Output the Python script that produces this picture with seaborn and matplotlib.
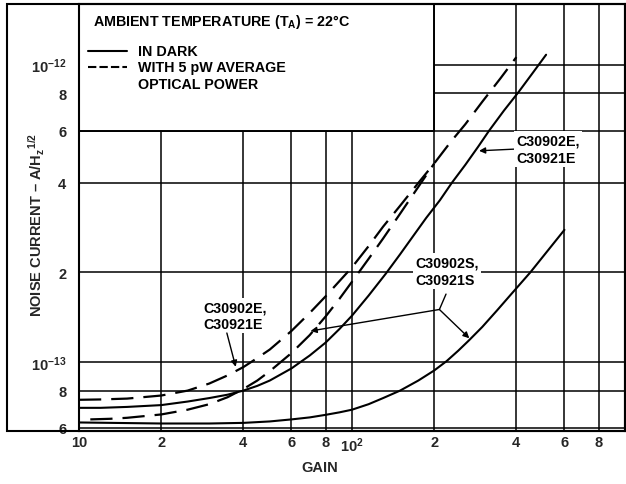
import matplotlib
matplotlib.use("Agg")
import matplotlib.pyplot as plt
import numpy as np
import pandas as pd
import seaborn as sns
from matplotlib.patches import Rectangle
from matplotlib.lines import Line2D

# ---- data (noise current in units of 1e-13 A/Hz^1/2) ----
gain_e_dark = [10, 12, 15, 20, 25, 30, 35, 40, 45, 50, 60, 70, 80, 90, 100, 115, 133, 150,
               170, 187, 210, 232, 260, 290, 318, 360, 408, 460, 514]
noise_e_dark = [0.70, 0.70, 0.705, 0.715, 0.735, 0.755, 0.775, 0.80, 0.83, 0.865, 0.95, 1.05,
                1.16, 1.29, 1.43, 1.67, 1.98, 2.3, 2.7, 3.05, 3.5, 4.0, 4.6, 5.3, 6.0, 7.0,
                8.1, 9.4, 10.8]

gain_e_light = [10, 12, 15, 20, 25, 30, 35, 40, 45, 50, 60, 70, 80, 90, 100, 115, 130, 150,
                175, 200, 230, 260, 300, 350, 400]
noise_e_light = [0.745, 0.747, 0.752, 0.77, 0.80, 0.845, 0.90, 0.96, 1.03, 1.10, 1.27, 1.46,
                 1.66, 1.87, 2.08, 2.45, 2.85, 3.35, 4.0, 4.65, 5.5, 6.3, 7.5, 9.0, 10.6]

gain_s_light = [11, 13, 15, 20, 25, 30, 35, 40, 45, 50, 60, 70, 80, 90, 100, 115, 130, 150,
                175, 200]
noise_s_light = [0.64, 0.643, 0.648, 0.665, 0.69, 0.72, 0.76, 0.81, 0.865, 0.93, 1.07, 1.23,
                 1.42, 1.63, 1.86, 2.22, 2.6, 3.15, 3.88, 4.65]

gain_s_dark = [10, 20, 30, 40, 50, 60, 70, 80, 90, 100, 115, 130, 150, 175, 200, 222, 245,
               268, 300, 340, 381, 450, 520, 600]
noise_s_dark = [0.625, 0.62, 0.62, 0.623, 0.63, 0.64, 0.65, 0.663, 0.676, 0.69, 0.72, 0.755,
                0.80, 0.865, 0.935, 1.005, 1.09, 1.18, 1.31, 1.49, 1.68, 2.0, 2.36, 2.78]

x_ticks = [10, 20, 40, 60, 80, 100, 200, 400, 600, 800]
x_labels = ["10", "2", "4", "6", "8", "10$^2$", "2", "4", "6", "8"]
y_ticks = [6e-14, 8e-14, 1e-13, 2e-13, 4e-13, 6e-13, 8e-13, 1e-12]
y_labels = ["6", "8", "10$^{-13}$", "2", "4", "6", "8", "10$^{-12}$"]

SCALE = 1e-13

sns.set_theme(style="white")
plt.rcParams["font.family"] = ["Liberation Sans", "DejaVu Sans"]
plt.rcParams["mathtext.fontset"] = "custom"
plt.rcParams["mathtext.rm"] = "Liberation Sans:bold"
plt.rcParams["mathtext.it"] = "Liberation Sans:bold"
plt.rcParams["mathtext.bf"] = "Liberation Sans:bold"

W, H = 626, 485
fig = plt.figure(figsize=(W / 100, H / 100), dpi=100)
L, R, T, B = 79, 625, 5, 432
ax = fig.add_axes([L / W, 1 - B / H, (R - L) / W, (B - T) / H])

def fp(x, y):
    return (x / W, 1 - y / H)

ax.set_xscale("log")
ax.set_yscale("log")
ax.set_xlim(10, 1000)
ax.set_ylim(5.85e-14, 1.6e-12)

ax.set_axisbelow(True)
ax.set_xticks(x_ticks)
ax.set_xticklabels(x_labels)
ax.set_yticks(y_ticks)
ax.set_yticklabels(y_labels)
ax.minorticks_off()
ax.grid(True, which="major", color="black", linewidth=1.1)
ax.tick_params(axis="both", length=0, labelsize=10.5)
ax.tick_params(axis="x", pad=3)
ax.tick_params(axis="y", pad=9)
for lab in ax.get_xticklabels() + ax.get_yticklabels():
    lab.set_fontweight("bold")
for s in ax.spines.values():
    s.set_visible(True)
    s.set_color("black")
    s.set_linewidth(1.5)

DASH = (10, 4.5)
for g, n in [(gain_e_dark, noise_e_dark), (gain_s_dark, noise_s_dark)]:
    sns.lineplot(x=g, y=np.array(n) * SCALE, ax=ax, color="black", lw=1.5, zorder=3)
for g, n in [(gain_e_light, noise_e_light), (gain_s_light, noise_s_light)]:
    l = sns.lineplot(x=g, y=np.array(n) * SCALE, ax=ax, color="black", lw=1.6, zorder=3)
    l.lines[-1].set_dashes(DASH)

# white legend box covering the upper-left grid
ax.add_patch(Rectangle((10, 6e-13), 190, 1.6e-12 - 6e-13, facecolor="white",
                       edgecolor="black", lw=1.4, zorder=2.5))

tkw = dict(fontsize=10.3, fontweight="bold", color="black")
fig.text(*fp(93, 22), "AMBIENT TEMPERATURE (T$_A$) = 22°C", va="center", ha="left", **tkw)
fig.add_artist(Line2D([88 / W, 127 / W], [1 - 52 / H, 1 - 52 / H], color="black", lw=1.5))
fig.add_artist(Line2D([88 / W, 127 / W], [1 - 68 / H, 1 - 68 / H], color="black", lw=1.5,
                      dashes=(4, 1.5)))
fig.text(*fp(138, 52), "IN DARK", va="center", ha="left", **tkw)
fig.text(*fp(138, 68), "WITH 5 pW AVERAGE", va="center", ha="left", **tkw)
fig.text(*fp(138, 85), "OPTICAL POWER", va="center", ha="left", **tkw)

bbox = dict(facecolor="white", edgecolor="none", pad=1.5)
akw = dict(arrowstyle="-|>", color="black", lw=1.0, mutation_scale=9, shrinkA=0, shrinkB=0)

# upper-right label
ax.annotate("C30902E,\nC30921E", xy=(292, 5.13e-13), xytext=(399, 5.2e-13),
            ha="left", va="center", linespacing=1.3, bbox=bbox, zorder=4,
            arrowprops=dict(akw, relpos=(0, 0.5)), **tkw)
# lower-left label
ax.text(28.5, 1.43e-13, "C30902E,\nC30921E", ha="left", va="center", linespacing=1.3,
        bbox=bbox, zorder=4, **tkw)
ax.annotate("", xy=(37.5, 0.962e-13), xytext=(34.8, 1.25e-13), arrowprops=akw, zorder=4)
# S label
ax.text(170, 2.02e-13, "C30902S,\nC30921S", ha="left", va="center", linespacing=1.3,
        bbox=bbox, zorder=4, **tkw)
ax.annotate("", xy=(209, 1.50e-13), xytext=(221, 1.69e-13),
            arrowprops=dict(arrowstyle="-", color="black", lw=1.0, shrinkA=0, shrinkB=0), zorder=4)
ax.annotate("", xy=(269, 1.20e-13), xytext=(209, 1.50e-13), arrowprops=akw, zorder=4)
ax.annotate("", xy=(70.5, 1.27e-13), xytext=(209, 1.50e-13), arrowprops=akw, zorder=4)

ax.set_xlabel("")
ax.set_ylabel("")
fig.text(*fp(320, 468), "GAIN", ha="center", va="center", fontsize=10.5, fontweight="bold")
fig.text(*fp(37, 225), "NOISE CURRENT – A/H$_z$$^{1/2}$", rotation=90, ha="center",
         va="center", fontsize=10.5, fontweight="bold")

# outer frame
fig.add_artist(Rectangle((7 / W, 1 - B / H), (R - 7) / W, (B - T) / H, transform=fig.transFigure,
                         fill=False, edgecolor="black", lw=1.5))

fig.savefig("out.png", dpi=100)
